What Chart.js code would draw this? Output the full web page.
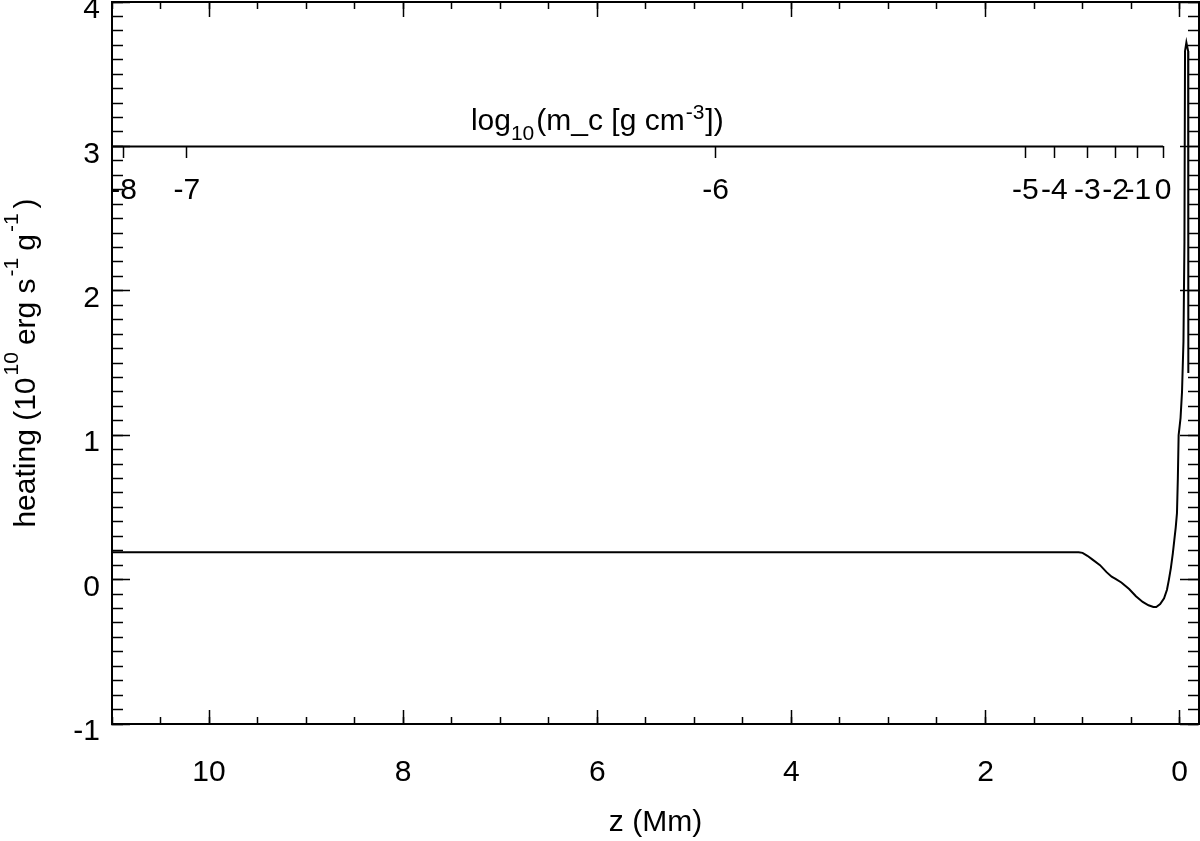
<!DOCTYPE html>
<html>
<head>
<meta charset="utf-8">
<title>heating vs z</title>
<script src="https://cdn.jsdelivr.net/npm/chart.js@4.4.0/dist/chart.umd.min.js"></script>
<style>
html, body { margin: 0; padding: 0; background: #fff; }
#wrap { width: 1200px; height: 841px; }
</style>
</head>
<body>
<div id="wrap"><canvas id="myChart" width="1200" height="841"></canvas></div>
<script>
// height z (Mm) and heating rate (10^10 erg s^-1 g^-1)
var zMm = [11.0, 1.04, 1.0, 0.95, 0.9, 0.82, 0.75, 0.7, 0.66, 0.6, 0.52, 0.45, 0.38, 0.32,
           0.27, 0.24, 0.2, 0.16, 0.13, 0.11, 0.09, 0.07, 0.055, 0.04, 0.027, 0.018, 0.01,
           0.0, -0.01, -0.025, -0.04, -0.05, -0.056, -0.07, -0.088, -0.09];
var heating = [0.19, 0.19, 0.185, 0.165, 0.14, 0.10, 0.05, 0.02, 0.005, -0.02, -0.065, -0.115, -0.155, -0.178,
               -0.19, -0.19, -0.17, -0.13, -0.07, 0.0, 0.08, 0.18, 0.27, 0.36, 0.46, 0.7, 1.0,
               1.06, 1.12, 1.3, 1.65, 2.34, 3.66, 3.72, 3.66, 1.43];

// axis ticks
var zTicks = [10, 8, 6, 4, 2, 0];
var hTicks = [-1, 0, 1, 2, 3, 4];
var zMinorStep = 0.5;
var hMinorStep = 0.1;

// secondary axis: log10 column mass, placed at the z where each value falls
var mcTickZ = [10.88, 10.23, 4.78, 1.59, 1.29, 0.95, 0.66, 0.43, 0.17];
var mcLabels = ['-8', '-7', '-6', '-5', '-4', '-3', '-2', '-1', '0'];

var zMin = -0.2, zMax = 11;
var hMin = -1, hMax = 4;

function steps(a, b, s) {
    var out = [];
    var n = Math.round((b - a) / s);
    for (var i = 0; i <= n; i++) out.push(+(a + i * s).toFixed(3));
    return out;
}
var zMinor = steps(0, 11, zMinorStep);
var hMinor = steps(hMin, hMax, hMinorStep);

var FONT = '"Liberation Sans", Arial, Helvetica, sans-serif';
var font30 = { family: FONT, size: 30 };

function setTicks(list) {
    return function (s) { s.ticks = list.map(function (v) { return { value: v }; }); };
}

// minor/mirror tick axes, drawn at the frame edges
function tickAxis(axis, pos, list, len, border) {
    return {
        type: 'linear', axis: axis, position: pos,
        min: axis === 'x' ? zMin : hMin,
        max: axis === 'x' ? zMax : hMax,
        reverse: axis === 'x',
        afterBuildTicks: setTicks(list),
        ticks: { display: false, autoSkip: false },
        grid: { drawOnChartArea: false, tickLength: len, tickColor: '#000', tickWidth: 1.5 },
        border: { display: !!border, color: '#000', width: 2 }
    };
}

function drawRich(ctx, parts, x, y) {
    var cx = x;
    parts.forEach(function (p) {
        ctx.font = p.size + 'px ' + FONT;
        cx += p.pre || 0;
        ctx.fillText(p.t, cx, y + (p.dy || 0));
        cx += ctx.measureText(p.t).width + (p.post || 0);
    });
    return cx - x;
}
function richWidth(ctx, parts) {
    var w = 0;
    parts.forEach(function (p) {
        ctx.font = p.size + 'px ' + FONT;
        w += (p.pre || 0) + ctx.measureText(p.t).width + (p.post || 0);
    });
    return w;
}

var yTitle = [
    { t: 'heating (10', size: 30 },
    { t: '10', size: 21, dy: -17, pre: 2, post: 7 },
    { t: 'erg s', size: 30 },
    { t: '-1', size: 21, dy: -17, pre: 2, post: 7 },
    { t: 'g', size: 30 },
    { t: '-1', size: 21, dy: -17, pre: 2, post: 5 },
    { t: ')', size: 30 }
];
var mcTitle = [
    { t: 'log', size: 30 },
    { t: '10', size: 21, dy: 10, post: 1 },
    { t: '(m_c [g cm', size: 30, pre: 1 },
    { t: '-3', size: 21, dy: -11, pre: 1, post: 1 },
    { t: '])', size: 30 }
];

var extras = {
    id: 'extras',
    afterDraw: function (chart) {
        var ctx = chart.ctx;
        var sx = chart.scales.x, sy = chart.scales.y, smc = chart.scales.xMc;
        ctx.save();
        ctx.fillStyle = '#000';
        ctx.strokeStyle = '#000';
        // line of the column-mass axis, ending at its last tick
        var yLine = Math.round(sy.getPixelForValue(3)) + 0.5;
        ctx.lineWidth = 2;
        ctx.beginPath();
        ctx.moveTo(sx.getPixelForValue(zMax), yLine);
        ctx.lineTo(smc.getPixelForValue(mcTickZ[mcTickZ.length - 1]), yLine);
        ctx.stroke();
        // its title
        ctx.textBaseline = 'alphabetic';
        ctx.textAlign = 'left';
        var w = richWidth(ctx, mcTitle);
        var cx = sx.getPixelForValue(6);
        drawRich(ctx, mcTitle, cx - w / 2, yLine - 17);
        // y axis title
        ctx.translate(35, (chart.chartArea.top + chart.chartArea.bottom) / 2);
        ctx.rotate(-Math.PI / 2);
        var wy = richWidth(ctx, yTitle);
        drawRich(ctx, yTitle, -wy / 2, 0);
        ctx.restore();
    }
};

function init() {
    var ctx = document.getElementById('myChart').getContext('2d');
    var points = zMm.map(function (z, i) { return { x: z, y: heating[i] }; });

    var chart = new Chart(ctx, {
        type: 'line',
        data: {
            datasets: [{
                label: 'heating',
                data: points,
                xAxisID: 'x',
                yAxisID: 'y',
                borderColor: '#000',
                borderWidth: 2,
                pointRadius: 0,
                tension: 0,
                fill: false
            }]
        },
        options: {
            responsive: false,
            animation: false,
            devicePixelRatio: 1,
            layout: { padding: { top: 2, right: 1, left: 0, bottom: 0 } },
            plugins: { legend: { display: false }, tooltip: { enabled: false } },
            scales: {
                x: {
                    type: 'linear', position: 'bottom', min: zMin, max: zMax, reverse: true,
                    afterBuildTicks: setTicks(zTicks),
                    ticks: { autoSkip: false, maxRotation: 0, padding: 45, font: font30, color: '#000',
                             callback: function (v) { return String(v); } },
                    grid: { drawOnChartArea: false, tickLength: -14, tickColor: '#000', tickWidth: 1.5 },
                    border: { color: '#000', width: 2 },
                    title: { display: true, text: 'z (Mm)', font: font30, color: '#000', padding: { top: 0, bottom: 0 } },
                    afterFit: function (s) { s.height = 117; s.paddingLeft = 0; s.paddingRight = 0; }
                },
                y: {
                    type: 'linear', position: 'left', min: hMin, max: hMax,
                    afterBuildTicks: setTicks(hTicks),
                    ticks: { autoSkip: false, padding: 30, labelOffset: 8, font: font30, color: '#000',
                             callback: function (v) { return String(v); } },
                    grid: { drawOnChartArea: false, tickLength: -18, tickColor: '#000', tickWidth: 1.5 },
                    border: { color: '#000', width: 2 },
                    afterFit: function (s) { s.width = 112; s.paddingTop = 0; s.paddingBottom = 0; }
                },
                xMinor: tickAxis('x', { y: hMin }, zMinor, -7, false),
                xTop: tickAxis('x', { y: hMax }, zTicks, 14, true),
                xTopMinor: tickAxis('x', { y: hMax }, zMinor, 7, false),
                yMinor: tickAxis('y', { x: zMax }, hMinor, -11, false),
                yRight: tickAxis('y', { x: zMin }, hTicks, 18, true),
                yRightMinor: tickAxis('y', { x: zMin }, hMinor, 11, false),
                xMc: {
                    type: 'linear', axis: 'x', position: { y: 3 }, min: zMin, max: zMax, reverse: true,
                    afterBuildTicks: setTicks(mcTickZ),
                    ticks: { autoSkip: false, maxRotation: 0, padding: 14, font: font30, color: '#000',
                             callback: function (v, i) { return mcLabels[i]; } },
                    grid: { drawOnChartArea: false, tickLength: 12, tickColor: '#000', tickWidth: 1.5 },
                    border: { display: false }
                }
            }
        },
        plugins: [extras]
    });
}
init();
</script>
</body>
</html>
